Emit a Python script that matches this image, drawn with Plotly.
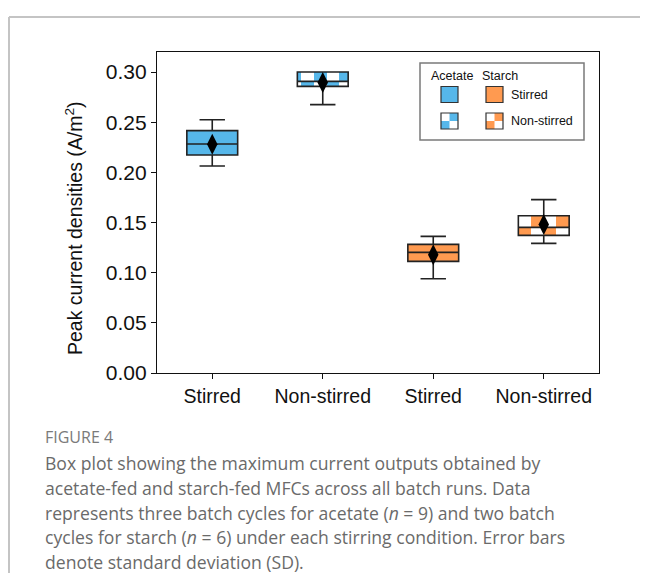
import plotly.graph_objects as go

# ---------------- data ----------------
categories = ["Stirred", "Non-stirred", "Stirred", "Non-stirred"]
substrates = ["Acetate", "Acetate", "Starch", "Starch"]
whisker_low = [0.2064, 0.2675, 0.0940, 0.1292]
q1_vals = [0.2173, 0.2857, 0.1113, 0.1372]
median_vals = [0.2283, 0.2907, 0.1202, 0.1452]
q3_vals = [0.2416, 0.3000, 0.1282, 0.1568]
whisker_high = [0.2525, 0.3000, 0.1362, 0.1728]
mean_vals = [0.2280, 0.2895, 0.1180, 0.1480]
y_ticks = [0.00, 0.05, 0.10, 0.15, 0.20, 0.25, 0.30]
caption_title = "FIGURE 4"
caption_lines = [
    "Box plot showing the maximum current outputs obtained by",
    "acetate-fed and starch-fed MFCs across all batch runs. Data",
    "represents three batch cycles for acetate (<i>n</i> = 9) and two batch",
    "cycles for starch (<i>n</i> = 6) under each stirring condition. Error bars",
    "denote standard deviation (SD).",
]

# ---------------- style ----------------
WIN_W, WIN_H = 648, 581
BODY = 8                      # default page body margin
W, H = WIN_W - 2 * BODY, WIN_H - 2 * BODY
PL, PR, PT, PB = 157, 599, 52, 373   # plot area in window pixels
COLORS = {"Acetate": "#56B7EA", "Starch": "#FF9A50"}
BOX_W = 0.46
CELL_W = BOX_W / 4
checker_phase = [None, 0.7, None, 0.0]       # None -> solid fill
top_first_colored = [None, True, None, False]
EDGE = "#222222"
SANS = "Liberation Sans, Arial, sans-serif"
XTICK_FONT = dict(family=SANS, size=19.5, color="#111")
YTICK_FONT = dict(family=SANS, size=21, color="#111")
TITLE_FONT = dict(family=SANS, size=19.5, color="#111")


def fx(x):
    return (x - PL) / (PR - PL)


def fy(y):
    return (PB - y) / (PB - PT)


fig = go.Figure()

# box fills (bars)
for i, sub in enumerate(substrates):
    col = COLORS[sub]
    left, right = i - BOX_W / 2, i + BOX_W / 2
    if checker_phase[i] is None:
        fig.add_trace(go.Bar(x=[i], y=[q3_vals[i] - q1_vals[i]], base=[q1_vals[i]],
                             width=[BOX_W], marker=dict(color=col, line=dict(width=0)),
                             showlegend=False, hoverinfo="skip"))
    else:
        xs, ws, bs, hs = [], [], [], []
        start = left - checker_phase[i] * CELL_W
        for k in range(0, 7):
            x0 = max(start + k * CELL_W, left)
            x1 = min(start + (k + 1) * CELL_W, right)
            if x1 - x0 <= 1e-6:
                continue
            top_col = (k % 2 == 0) == top_first_colored[i]
            xs.append((x0 + x1) / 2)
            ws.append(x1 - x0)
            if top_col:
                bs.append(median_vals[i]); hs.append(q3_vals[i] - median_vals[i])
            else:
                bs.append(q1_vals[i]); hs.append(median_vals[i] - q1_vals[i])
        fig.add_trace(go.Bar(x=xs, y=hs, base=bs, width=ws,
                             marker=dict(color=col, line=dict(width=0)),
                             showlegend=False, hoverinfo="skip"))

# box outlines, medians, whiskers
for i in range(len(categories)):
    fig.add_trace(go.Box(
        x=[i], q1=[q1_vals[i]], median=[median_vals[i]], q3=[q3_vals[i]],
        lowerfence=[whisker_low[i]], upperfence=[whisker_high[i]],
        width=BOX_W, whiskerwidth=0.5, boxpoints=False,
        fillcolor="rgba(0,0,0,0)", line=dict(color=EDGE, width=1.6),
        showlegend=False, hoverinfo="skip"))

# means
fig.add_trace(go.Scatter(x=list(range(len(categories))), y=mean_vals, mode="markers",
                         marker=dict(symbol="diamond-tall", size=15, color="black"),
                         showlegend=False, hoverinfo="skip"))

shapes = []
annotations = []

# card frame
shapes.append(dict(type="line", xref="paper", yref="paper", x0=fx(9), x1=fx(660),
                   y0=fy(17), y1=fy(17), line=dict(color="#c4c4c4", width=2)))
shapes.append(dict(type="line", xref="paper", yref="paper", x0=fx(9), x1=fx(9),
                   y0=fy(17), y1=fy(590), line=dict(color="#c4c4c4", width=2)))

# legend box
shapes.append(dict(type="rect", xref="paper", yref="paper", x0=fx(420), x1=fx(584),
                   y0=fy(63), y1=fy(140), line=dict(color="#7a7a7a", width=1.5),
                   fillcolor="white", layer="above"))


def icon(x0, y0, color, checker):
    x1, y1 = x0 + 17, y0 + 16
    if checker:
        xm, ym = (x0 + x1) / 2, (y0 + y1) / 2
        shapes.append(dict(type="rect", xref="paper", yref="paper", x0=fx(xm), x1=fx(x1),
                           y0=fy(y0), y1=fy(ym), line=dict(width=0), fillcolor=color, layer="above"))
        shapes.append(dict(type="rect", xref="paper", yref="paper", x0=fx(x0), x1=fx(xm),
                           y0=fy(ym), y1=fy(y1), line=dict(width=0), fillcolor=color, layer="above"))
        shapes.append(dict(type="rect", xref="paper", yref="paper", x0=fx(x0), x1=fx(x1),
                           y0=fy(y0), y1=fy(y1), line=dict(color="#333", width=1.2), layer="above"))
    else:
        shapes.append(dict(type="rect", xref="paper", yref="paper", x0=fx(x0), x1=fx(x1),
                           y0=fy(y0), y1=fy(y1), line=dict(color="#333", width=1.2),
                           fillcolor=color, layer="above"))


icon(441, 86.5, COLORS["Acetate"], False)
icon(486, 86.5, COLORS["Starch"], False)
icon(441, 113, COLORS["Acetate"], True)
icon(486, 113, COLORS["Starch"], True)

LEG_FONT = dict(family=SANS, size=12.5, color="#111")
for txt, x, y, anc in [("Acetate", 451.5, 76, "center"), ("Starch", 500, 76, "center"),
                       ("Stirred", 509, 95, "left"), ("Non-stirred", 509, 121, "left")]:
    annotations.append(dict(text=txt, x=fx(x), y=fy(y), xref="paper", yref="paper",
                            xanchor=anc, yanchor="middle", showarrow=False, font=LEG_FONT))

# y-axis title
annotations.append(dict(text="Peak current densities (A/m<sup>2</sup>)", x=fx(74), y=fy(228),
                        xref="paper", yref="paper", xanchor="center", yanchor="middle",
                        textangle=-90, showarrow=False, font=TITLE_FONT))

# caption
annotations.append(dict(text=caption_title, x=fx(43), y=fy(437), xref="paper", yref="paper",
                        xanchor="left", yanchor="middle", showarrow=False,
                        font=dict(family="Open Sans, sans-serif", size=16, color="#7a7a7a")))
for j, line in enumerate(caption_lines):
    annotations.append(dict(text=line, x=fx(43), y=fy(463 + 24.8 * j), xref="paper", yref="paper",
                            xanchor="left", yanchor="middle", showarrow=False,
                            font=dict(family="Open Sans, sans-serif", size=17.6, color="#6a6a6a")))

fig.update_layout(
    width=W, height=H,
    margin=dict(l=PL - BODY, r=WIN_W - BODY - PR, t=PT - BODY, b=WIN_H - BODY - PB, pad=0),
    paper_bgcolor="white", plot_bgcolor="white",
    barmode="overlay", bargap=0,
    showlegend=False,
    shapes=shapes, annotations=annotations,
    xaxis=dict(range=[-0.5, 3.5], tickvals=list(range(len(categories))), ticktext=categories,
               showgrid=False, zeroline=False, showline=True, linecolor="#111", linewidth=1.2,
               mirror=True, ticks="outside", ticklen=5, tickwidth=1.2, tickcolor="#111",
               tickfont=XTICK_FONT),
    yaxis=dict(range=[0, 0.32], tickvals=y_ticks, tickformat=".2f",
               showgrid=False, zeroline=False, showline=True, linecolor="#111", linewidth=1.2,
               mirror=True, ticks="outside", ticklen=5, tickwidth=1.2, tickcolor="#111",
               tickfont=YTICK_FONT),
)

fig.write_html("out.html")
